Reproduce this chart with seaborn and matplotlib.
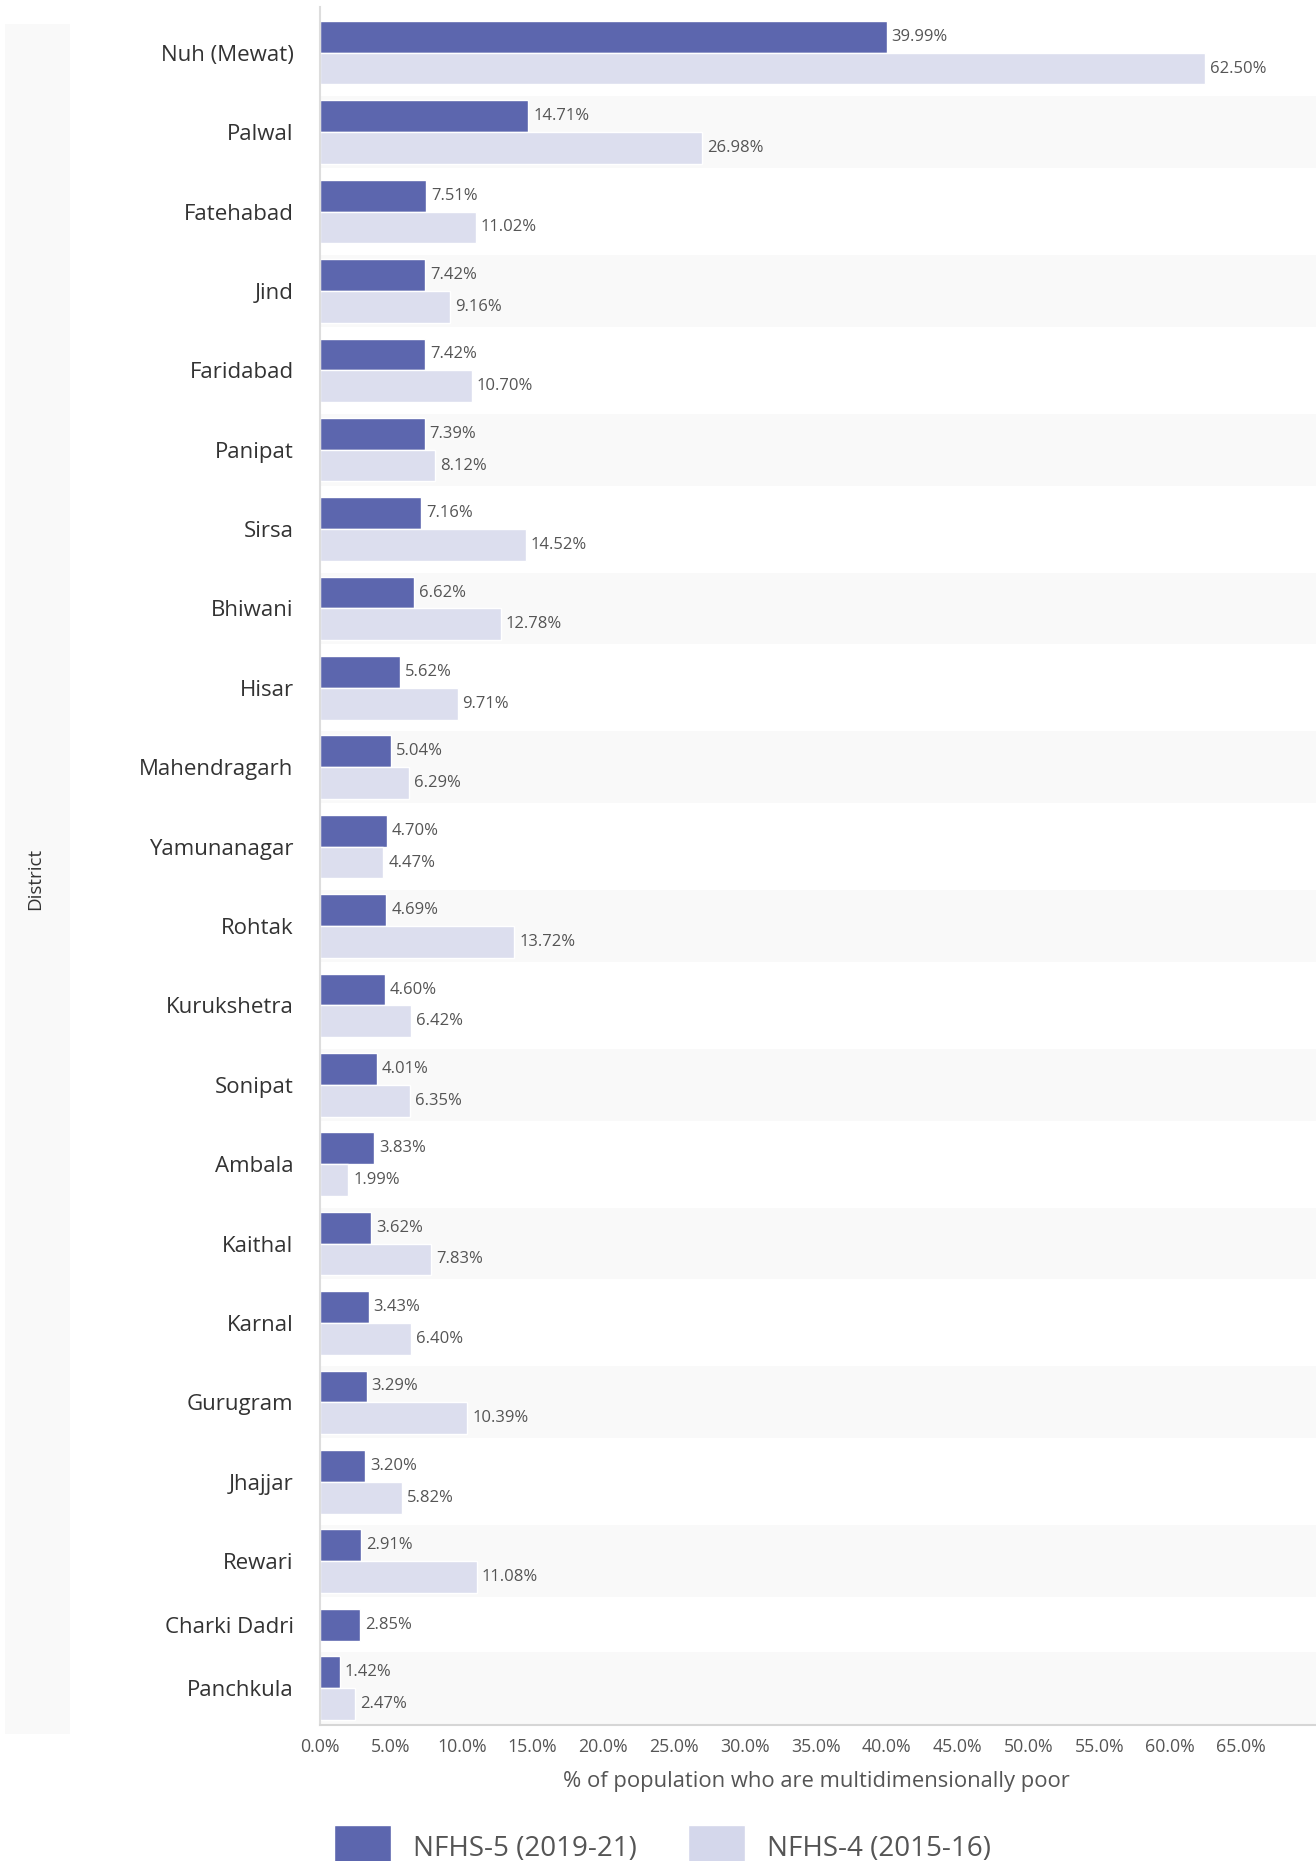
"""
Multidimensional poverty by district (Haryana), NFHS-5 vs NFHS-4
Grouped horizontal bars with alternating row bands
"""

import numpy as np
import pandas as pd
import matplotlib.pyplot as plt
import seaborn as sns
from matplotlib.patches import Patch, Rectangle

sns.set_style("white")
plt.rcParams['font.family'] = ['Open Sans', 'DejaVu Sans']

# ---- data ----
DISTRICTS = ['Nuh (Mewat)', 'Palwal', 'Fatehabad', 'Jind', 'Faridabad', 'Panipat',
             'Sirsa', 'Bhiwani', 'Hisar', 'Mahendragarh', 'Yamunanagar', 'Rohtak',
             'Kurukshetra', 'Sonipat', 'Ambala', 'Kaithal', 'Karnal', 'Gurugram',
             'Jhajjar', 'Rewari', 'Charki Dadri', 'Panchkula']
NFHS5 = [39.99, 14.71, 7.51, 7.42, 7.42, 7.39, 7.16, 6.62, 5.62, 5.04, 4.70, 4.69,
         4.60, 4.01, 3.83, 3.62, 3.43, 3.29, 3.20, 2.91, 2.85, 1.42]
NFHS4 = [62.50, 26.98, 11.02, 9.16, 10.70, 8.12, 14.52, 12.78, 9.71, 6.29, 4.47, 13.72,
         6.42, 6.35, 1.99, 7.83, 6.40, 10.39, 5.82, 11.08, None, 2.47]
SURVEYS = ['NFHS-5 (2019-21)', 'NFHS-4 (2015-16)']
XTICKS = [0, 5, 10, 15, 20, 25, 30, 35, 40, 45, 50, 55, 60, 65, 70]

COLORS = {SURVEYS[0]: '#5c66ae', SURVEYS[1]: '#dcdeee'}
BAND_COLOR = '#f9f9f9'
GAP = 0.5        # space between district groups, in bar heights
BAND_PAD = 0.13


def build_layout():
    """Stack bars row by row; a row only takes space for the bars it has"""
    rows, centers, spans = [], [], []
    y = 0.0
    for name, v5, v4 in zip(DISTRICTS, NFHS5, NFHS4):
        start = y
        for survey, val in zip(SURVEYS, [v5, v4]):
            if val is None:
                continue
            rows.append({'district': name, 'survey': survey, 'value': val, 'pos': y + 0.5})
            y += 1.0
        centers.append((start + y) / 2)
        spans.append((start, y))
        y += GAP
    return pd.DataFrame(rows), centers, spans, y - GAP


def main():
    df, centers, spans, total = build_layout()

    fig = plt.figure(figsize=(13.16, 18.61), dpi=100)
    ax = fig.add_axes([320 / 1316, 136 / 1861, 996 / 1316, 1718 / 1861])

    # alternating background bands
    for i, (s, e) in enumerate(spans):
        if i % 2 == 1:
            ax.axhspan(s - BAND_PAD, e + BAND_PAD, color=BAND_COLOR, zorder=0, lw=0)

    sns.barplot(data=df, x='value', y='pos', hue='survey', hue_order=SURVEYS,
                orient='y', native_scale=True, dodge=False, width=1.0,
                palette=COLORS, saturation=1, legend=False, ax=ax, zorder=2)

    for c in ax.containers:
        ax.bar_label(c, fmt='%.2f%%', padding=3.5, fontsize=12, color='#555555')

    ax.set_ylim(total + 0.16, -0.44)
    ax.set_xlim(0, 70.3)

    ax.set_yticks(centers)
    ax.set_yticklabels(DISTRICTS, fontsize=16, color='#333333')
    ax.tick_params(axis='y', length=0, pad=19)

    ax.set_xticks(XTICKS)
    ax.set_xticklabels([f'{t:.1f}%' if t < 70 else '' for t in XTICKS],
                       fontsize=12.8, color='#555555')
    ax.tick_params(axis='x', length=4, width=1, color='#cccccc', pad=5)

    ax.set_xlabel('% of population who are multidimensionally poor',
                  fontsize=15.8, color='#555555', va='center')
    ax.xaxis.set_label_coords(0.4985, -57 / 1718)
    ax.set_ylabel('')

    sns.despine(ax=ax, top=True, right=True)
    ax.spines['left'].set_color('#dddddd')
    ax.spines['left'].set_linewidth(1.5)
    ax.spines['bottom'].set_color('#d6d6d6')
    ax.spines['bottom'].set_linewidth(1.5)

    # y-axis title box on the far left
    fig.add_artist(Rectangle((5 / 1316, 127 / 1861), 65 / 1316, 1710 / 1861,
                             transform=fig.transFigure, facecolor=BAND_COLOR,
                             edgecolor='none', zorder=0))
    fig.text(35 / 1316, 1 - 879 / 1861, 'District', rotation=90,
             ha='center', va='center', fontsize=13.5, color='#333333')

    # legend at the bottom
    handles = [Patch(facecolor=COLORS[SURVEYS[0]]), Patch(facecolor='#d4d7eb')]
    fig.legend(handles, SURVEYS, loc='upper center', bbox_to_anchor=(0.5034, 36 / 1861),
               ncol=2, frameon=False, fontsize=20, labelcolor='#555555',
               handlelength=2.05, handleheight=2.05, handletextpad=0.79,
               columnspacing=1.83, borderpad=0, borderaxespad=0)

    fig.savefig('out.png', dpi=100, facecolor='white')


if __name__ == "__main__":
    main()
